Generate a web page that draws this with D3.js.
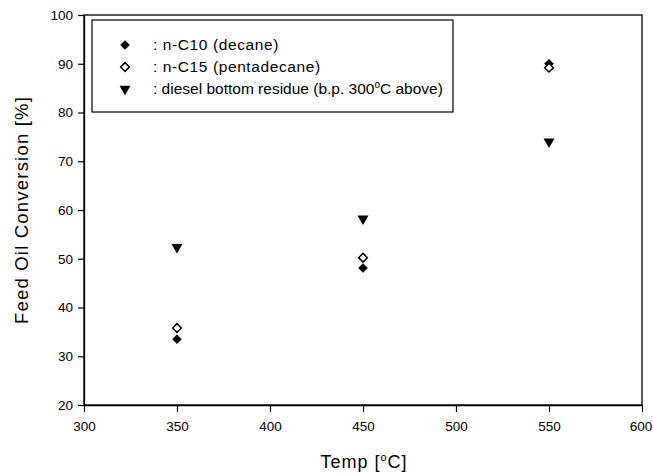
<!DOCTYPE html>
<html><head><meta charset="utf-8">
<script src="https://cdn.jsdelivr.net/npm/d3@7"></script>
<style>body{margin:0;background:#fff}svg{display:block}text{font-family:"Liberation Sans",Arial,sans-serif}</style>
</head><body>
<script>
const temps = [350, 450, 550];
const decane = [33.5, 48.1, 90.0];
const pentadecane = [35.8, 50.2, 89.2];
const diesel = [52.4, 58.2, 74.0];
const xTicks = [300, 350, 400, 450, 500, 550, 600];
const yTicks = [20, 30, 40, 50, 60, 70, 80, 90, 100];

const W = 653, H = 475;
const svg = d3.select("body").append("svg").attr("width", W).attr("height", H);
const x = d3.scaleLinear().domain([300, 600]).range([84, 642]);
const y = d3.scaleLinear().domain([20, 100]).range([405, 15]);

// frame
svg.append("rect").attr("x", 84).attr("y", 15).attr("width", 558).attr("height", 390)
  .attr("fill", "none").attr("stroke", "#000").attr("stroke-width", 1.3);

const xa = svg.append("g").attr("transform", "translate(0,405)")
  .call(d3.axisBottom(x).tickValues(xTicks).tickSize(7).tickSizeOuter(0).tickPadding(9));
const ya = svg.append("g").attr("transform", "translate(84,0)")
  .call(d3.axisLeft(y).tickValues(yTicks).tickSize(6).tickSizeOuter(0).tickPadding(5));
[xa, ya].forEach(a => {
  a.select(".domain").attr("stroke-width", 1.3);
  a.selectAll(".tick line").attr("stroke-width", 1.2);
  a.selectAll("text").attr("font-size", 13.5).attr("fill", "#000").attr("font-family", "Liberation Sans, Arial, sans-serif");
});
xa.selectAll(".tick text").filter(d => d === 600).attr("dx", -1.5);

// axis titles
const xt = svg.append("text").attr("x", 364).attr("y", 468).attr("text-anchor", "middle").attr("font-size", 18).attr("letter-spacing", "1");
xt.append("tspan").text("Temp [");
xt.append("tspan").attr("font-size", 11).attr("dy", -7).text("o");
xt.append("tspan").attr("dy", 7).text("C]");
svg.append("text").attr("transform", "translate(28,210) rotate(-90)").attr("text-anchor", "middle")
  .attr("font-size", 18.5).attr("letter-spacing", "1.2").text("Feed Oil Conversion [%]");

const diamond = d3.symbol().type(d3.symbolSquare).size(38);
const tri = d3.symbol().type(d3.symbolTriangle).size(52);

function drawDiamond(g, cx, cy, filled) {
  g.append("path").attr("d", diamond).attr("transform", `translate(${cx},${cy}) rotate(45)`)
    .attr("fill", filled ? "#000" : "#fff").attr("stroke", "#000").attr("stroke-width", filled ? 0.8 : 1.5);
}
function drawTri(g, cx, cy) {
  g.append("path").attr("d", tri).attr("transform", `translate(${cx},${cy}) rotate(180)`).attr("fill", "#000");
}

const pts = svg.append("g");
temps.forEach((t, i) => drawTri(pts, x(t), y(diesel[i])));
temps.forEach((t, i) => drawDiamond(pts, x(t), y(decane[i]), true));
temps.forEach((t, i) => drawDiamond(pts, x(t), y(pentadecane[i]), false));

// legend
const lg = svg.append("g");
lg.append("rect").attr("x", 92).attr("y", 20).attr("width", 361).attr("height", 92)
  .attr("fill", "#fff").attr("stroke", "#000").attr("stroke-width", 1.2);
const rows = [45, 67, 89];
drawDiamond(lg, 125, rows[0], true);
drawDiamond(lg, 125, rows[1], false);
drawTri(lg, 125, rows[2]);
const lx = 153;
const fs = 15.5;
lg.append("text").attr("x", lx).attr("y", rows[0] + 5).attr("font-size", fs).attr("letter-spacing", "0.6").text(": n-C10 (decane)");
lg.append("text").attr("x", lx).attr("y", rows[1] + 5).attr("font-size", fs).attr("letter-spacing", "0.6").text(": n-C15 (pentadecane)");
const t3 = lg.append("text").attr("x", lx).attr("y", rows[2] + 5).attr("font-size", fs);
t3.append("tspan").text(": diesel bottom residue (b.p. 300");
t3.append("tspan").attr("font-size", 10).attr("dy", -6).text("o");
t3.append("tspan").attr("dy", 6).text("C above)");
</script>
</body></html>
